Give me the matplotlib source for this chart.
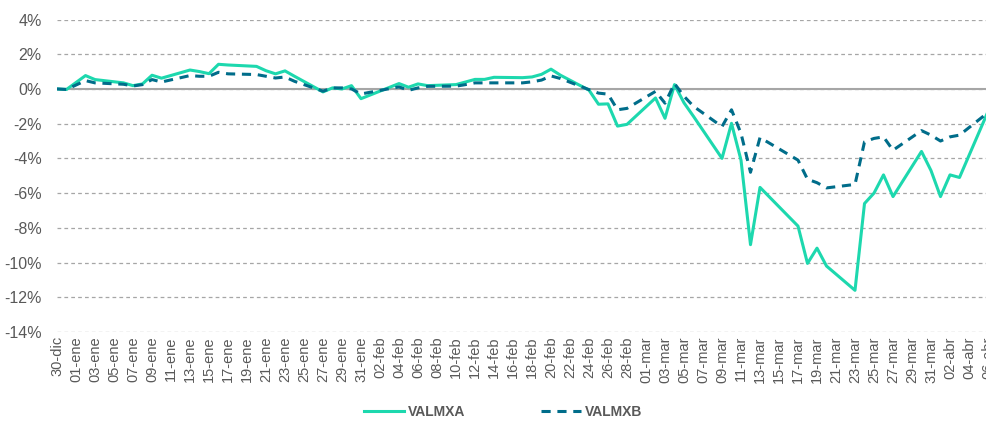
import datetime as dt
import matplotlib
matplotlib.use("Agg")
import matplotlib.pyplot as plt
import matplotlib.dates as mdates
from matplotlib.ticker import FuncFormatter, MultipleLocator

# trading days (Mexican market, holidays skipped)
DATES = [
    "2019-12-30", "2019-12-31",
    "2020-01-02", "2020-01-03", "2020-01-06", "2020-01-07", "2020-01-08", "2020-01-09",
    "2020-01-10", "2020-01-13", "2020-01-14", "2020-01-15", "2020-01-16", "2020-01-17",
    "2020-01-20", "2020-01-21", "2020-01-22", "2020-01-23", "2020-01-24", "2020-01-27",
    "2020-01-28", "2020-01-29", "2020-01-30", "2020-01-31",
    "2020-02-04", "2020-02-05", "2020-02-06", "2020-02-07", "2020-02-10", "2020-02-11",
    "2020-02-12", "2020-02-13", "2020-02-14", "2020-02-17", "2020-02-18", "2020-02-19",
    "2020-02-20", "2020-02-21", "2020-02-24", "2020-02-25", "2020-02-26", "2020-02-27",
    "2020-02-28",
    "2020-03-02", "2020-03-03", "2020-03-04", "2020-03-05", "2020-03-06", "2020-03-09",
    "2020-03-10", "2020-03-11", "2020-03-12", "2020-03-13", "2020-03-17", "2020-03-18",
    "2020-03-19", "2020-03-20", "2020-03-23", "2020-03-24", "2020-03-25", "2020-03-26",
    "2020-03-27", "2020-03-30", "2020-03-31",
    "2020-04-01", "2020-04-02", "2020-04-03", "2020-04-06",
]

VALMXA = [
    0.0, -0.03,
    0.77, 0.54, 0.35, 0.19, 0.29, 0.79,
    0.62, 1.09, 1.0, 0.88, 1.42, 1.38,
    1.3, 1.05, 0.87, 1.04, 0.73, -0.17,
    0.06, 0.0, 0.19, -0.56,
    0.31, 0.1, 0.29, 0.19, 0.25, 0.4,
    0.55, 0.55, 0.67, 0.65, 0.69, 0.84,
    1.14, 0.79, -0.07, -0.88, -0.86, -2.14,
    -2.04,
    -0.52, -1.69, 0.25, -0.8, -1.58, -4.0,
    -1.98, -4.1, -8.97, -5.67, -7.9, -10.05,
    -9.17, -10.2, -11.6, -6.6, -6.0, -4.95,
    -6.2, -3.6, -4.7,
    -6.2, -4.95, -5.1, -1.3,
]

VALMXB = [
    0.0, -0.03,
    0.48, 0.35, 0.27, 0.17, 0.25, 0.54,
    0.4, 0.77, 0.73, 0.73, 0.96, 0.87,
    0.83, 0.73, 0.63, 0.69, 0.44, -0.13,
    0.06, 0.06, 0.0, -0.29,
    0.12, -0.08, 0.06, 0.15, 0.16, 0.25,
    0.35, 0.35, 0.35, 0.35, 0.41, 0.51,
    0.75, 0.6, -0.04, -0.24, -0.3, -1.2,
    -1.12,
    -0.14, -0.82, 0.31, -0.42, -1.0, -2.17,
    -1.2, -2.56, -4.8, -2.8, -4.1, -5.2,
    -5.4, -5.7, -5.5, -3.05, -2.85, -2.76,
    -3.53, -2.4, -2.66,
    -3.0, -2.76, -2.66, -1.36,
]

MESES = {1: "ene", 2: "feb", 3: "mar", 4: "abr", 12: "dic"}
START = dt.date(2019, 12, 30)
END = dt.date(2020, 4, 6)

GREEN = "#1DD8AE"
TEAL = "#006D8A"
GRAY = "#595959"

plt.rcParams["font.family"] = ["Liberation Sans", "DejaVu Sans"]

dates = [dt.datetime.strptime(d, "%Y-%m-%d") for d in DATES]

fig = plt.figure(figsize=(9.86, 4.22), dpi=100)
ax = fig.add_axes([57 / 986, 90 / 422, 931 / 986, 312.5 / 422])

ax.plot(dates, VALMXA, color=GREEN, lw=2.2, label="VALMXA", zorder=3)
ax.plot(dates, VALMXB, color=TEAL, lw=2.2, ls=(0, (3, 2.2)), label="VALMXB", zorder=4)

ax.set_ylim(-14, 4)
ax.yaxis.set_major_locator(MultipleLocator(2))
ax.yaxis.set_major_formatter(FuncFormatter(lambda v, p: "%d%%" % round(v)))
ax.set_xlim(mdates.date2num(START), mdates.date2num(END))

ticks = [START + dt.timedelta(days=i) for i in range(0, (END - START).days + 1, 2)]
ax.set_xticks(mdates.date2num(ticks))
ax.set_xticklabels(["%02d-%s" % (d.day, MESES[d.month]) for d in ticks],
                   rotation=90, fontsize=10, color=GRAY)

ax.grid(axis="y", color="#A6A6A6", ls=(0, (3, 2.5)), lw=0.9)
ax.axhline(0, color="#A6A6A6", lw=1.5, zorder=2)
for s in ax.spines.values():
    s.set_visible(False)
ax.tick_params(axis="y", length=0, pad=11, labelsize=11.5, colors=GRAY)
ax.tick_params(axis="x", length=0, pad=3, labelsize=10.5, colors=GRAY)

fig.legend(loc="center", bbox_to_anchor=(503 / 986, 10 / 422), ncol=2, frameon=False,
           prop={"weight": "bold", "size": 10}, labelcolor=GRAY,
           handlelength=2.9, handletextpad=0.25, columnspacing=5.5)

fig.savefig("out.png", dpi=100)
